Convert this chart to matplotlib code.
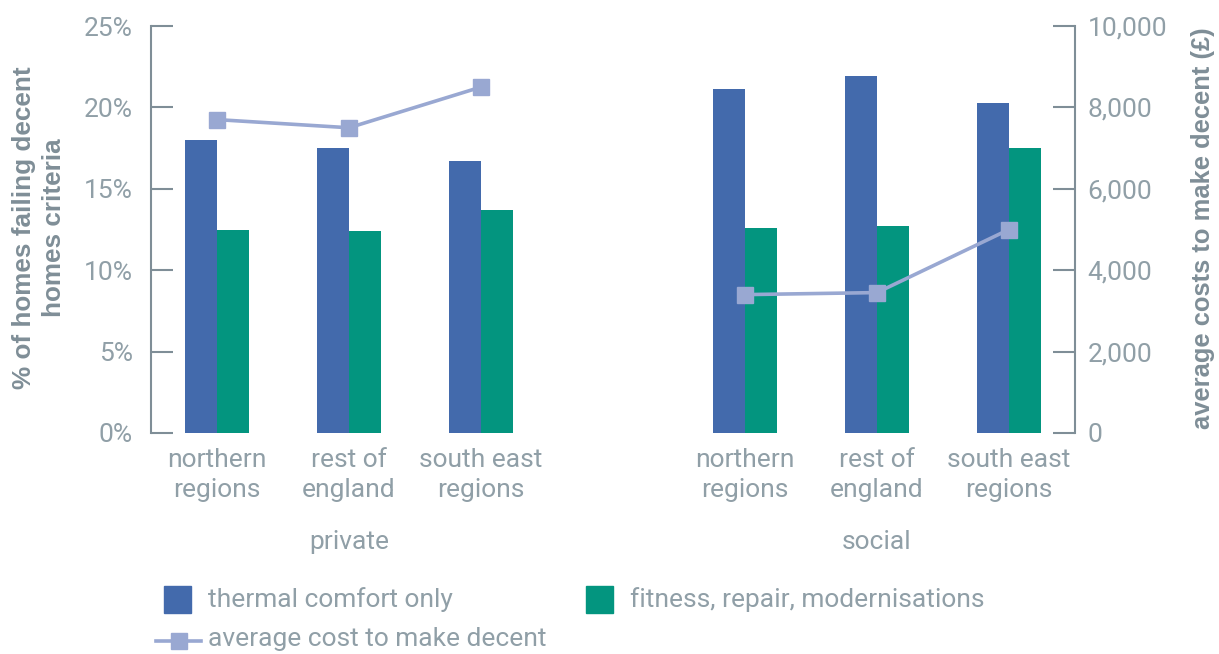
import matplotlib
matplotlib.use("Agg")
import matplotlib.pyplot as plt
from matplotlib.patches import Rectangle
from matplotlib.lines import Line2D
import numpy as np

# Data
regions = ["northern\nregions", "rest of\nengland", "south east\nregions"]
tenures = ["private", "social"]
thermal_comfort = [18.0, 17.5, 16.7, 21.1, 21.9, 20.3]      # % of homes
fitness_repair = [12.5, 12.4, 13.7, 12.6, 12.7, 17.5]       # % of homes
private_cost = [7700, 7500, 8500]                           # £
social_cost = [3400, 3450, 5000]                            # £
pct_ticks = [0, 5, 10, 15, 20, 25]
cost_ticks = [0, 2000, 4000, 6000, 8000, 10000]

BLUE = "#436AAC"
GREEN = "#03957F"
LINE = "#99A8D2"
TEXT = "#909FA7"
AXIS = "#7F8E97"
LIGHT = dict(family=["Roboto", "DejaVu Sans"], weight="normal")
BOLD = dict(family=["Liberation Sans", "DejaVu Sans"], weight="bold")
FS = 19.0

W, H = 1219, 654
fig = plt.figure(figsize=(W / 100, H / 100), dpi=100)
ax = fig.add_axes([151 / W, 1 - 433 / H, (1075 - 151) / W, (433 - 26) / H])
ax2 = ax.twinx()

x = np.array([0, 1, 2, 4, 5, 6], dtype=float)
bw = 0.242
ax.bar(x - bw / 2, thermal_comfort, bw, color=BLUE, zorder=2)
ax.bar(x + bw / 2, fitness_repair, bw, color=GREEN, zorder=2)

ax2.plot(x[:3], private_cost, color=LINE, lw=2.6, marker="s", ms=11,
         mec=LINE, mfc=LINE, solid_capstyle="butt")
ax2.plot(x[3:], social_cost, color=LINE, lw=2.6, marker="s", ms=11,
         mec=LINE, mfc=LINE, solid_capstyle="butt")

ax.set_xlim(-0.5, 6.5)
ax.set_ylim(0, 25)
ax2.set_ylim(0, 10000)

ax.set_yticks(pct_ticks)
ax.set_yticklabels([f"{v}%" for v in pct_ticks])
ax2.set_yticks(cost_ticks)
ax2.set_yticklabels([f"{v:,}" for v in cost_ticks])

ax.set_xticks(x)
ax.set_xticklabels(regions * 2)

for a in (ax, ax2):
    for s in ("top", "bottom"):
        a.spines[s].set_visible(False)
    a.patch.set_visible(False)
ax.spines["right"].set_visible(False)
ax2.spines["left"].set_visible(False)
ax.spines["left"].set_color(AXIS)
ax.spines["left"].set_linewidth(1.5)
ax2.spines["right"].set_color(AXIS)
ax2.spines["right"].set_linewidth(1.5)

ax.tick_params(axis="y", direction="in", length=16, width=1.5, color=AXIS,
               pad=13, labelcolor=TEXT, labelsize=FS)
ax2.tick_params(axis="y", direction="in", length=16, width=1.5, color=AXIS,
                pad=9, labelcolor=TEXT, labelsize=FS)
ax.tick_params(axis="x", length=0, pad=11, labelcolor=TEXT, labelsize=FS)
for lab in ax.get_yticklabels() + ax2.get_yticklabels() + ax.get_xticklabels():
    lab.set_fontfamily(LIGHT["family"])
    lab.set_fontweight(LIGHT["weight"])
for lab in ax.get_xticklabels():
    lab.set_linespacing(1.3)

# tenure group labels
for label, cx in zip(tenures, [1, 5]):
    ax.text(cx, 1 - (542 - 26) / (433 - 26), label,
            transform=ax.get_xaxis_transform(),
            ha="center", va="center", color=TEXT, fontsize=FS, **LIGHT)

# axis titles
fig.text(39 / W, 1 - 228 / H, "% of homes failing decent\nhomes criteria",
         rotation=90, ha="center", va="center", multialignment="center",
         color=AXIS, fontsize=18.8, linespacing=1.3, **BOLD)
fig.text(1203 / W, 1 - 228 / H, "average costs to make decent (£)",
         rotation=90, ha="center", va="center", color=AXIS, fontsize=18.4,
         **BOLD)

# legend
def fx(px):
    return px / W

def fy(py):
    return 1 - py / H

tf = fig.transFigure
fig.patches.append(Rectangle((fx(164), fy(613)), 27 / W, 27 / H,
                             color=BLUE, transform=tf, figure=fig))
fig.patches.append(Rectangle((fx(586), fy(613)), 27 / W, 27 / H,
                             color=GREEN, transform=tf, figure=fig))
fig.lines.append(Line2D([fx(156), fx(201)], [fy(641), fy(641)], color=LINE,
                        lw=2.6, transform=tf, figure=fig))
fig.lines.append(Line2D([fx(178.5)], [fy(641)], color=LINE, marker="s",
                        ms=11, lw=0, transform=tf, figure=fig))
fig.text(fx(208), fy(600), "thermal comfort only", ha="left", va="center",
         color=TEXT, fontsize=FS, **LIGHT)
fig.text(fx(630), fy(600), "fitness, repair, modernisations", ha="left",
         va="center", color=TEXT, fontsize=FS, **LIGHT)
fig.text(fx(208), fy(639), "average cost to make decent", ha="left",
         va="center", color=TEXT, fontsize=FS, **LIGHT)

fig.savefig("out.png", dpi=100, facecolor="white")
